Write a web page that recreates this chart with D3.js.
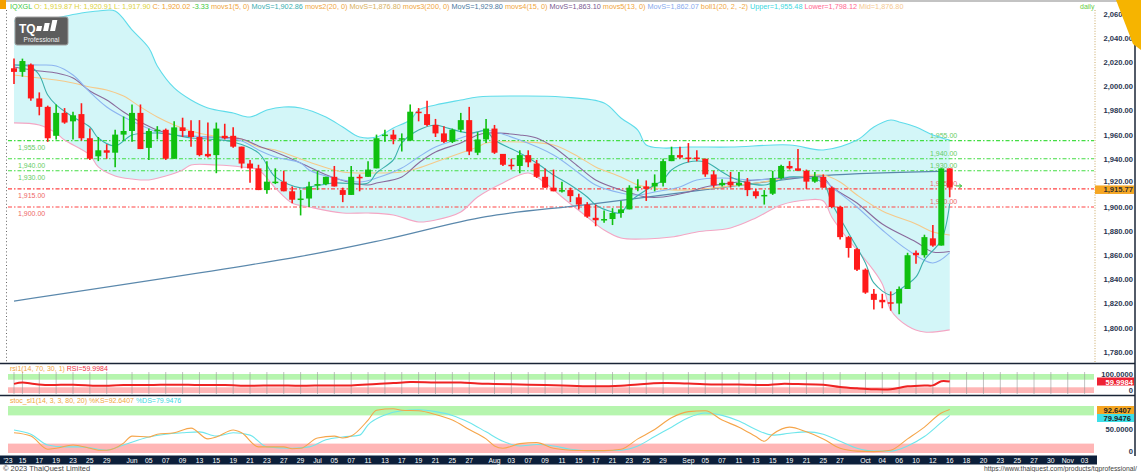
<!DOCTYPE html>
<html>
<head>
<meta charset="utf-8">
<script src="https://cdn.jsdelivr.net/npm/d3@7"></script>
<style>
body { margin: 0; background: #fff; }
text { font-family: "Liberation Sans", Arial, sans-serif; }
</style>
</head>
<body>
<svg id="chart" width="1141" height="472"></svg>
<script>
// daily candles, 12 May - 16 Oct 2023, one entry per trading day
const opens  = [2015,2012,2018,1990,1983,1959,1978,1971,1977,1957,1942,1947,1945,1960,1963,1978,1949,1963,1964,1940,
                1966,1963,1958,1944,1943,1959,1959,1950,1936,1932,1914,1920,1921,1913,1906,1907,1918,1919,1925,1914,
                1910,1925,1925,1932,1959,1960,1956,1955,1979,1977,1968,1961,1954,1964,1972,1945,1956,1965,1944,1935,
                1934,1943,1936,1925,1916,1913,1914,1908,1902,1891,1889,1890,1895,1898,1916,1917,1917,1920,1938,1943,
                1941,1941,1940,1927,1918,1921,1918,1921,1913,1909,1911,1924,1934,1932,1930,1921,1925,1916,1900,1875,
                1865,1848,1828,1823,1821,1820,1832,1862,1860,1874,1868,1932];
const highs  = [2023,2023,2019,1995,1984,1985,1982,1979,1986,1965,1958,1952,1964,1975,1985,1985,1965,1967,1965,1971,
                1974,1972,1972,1970,1970,1969,1966,1950,1939,1935,1938,1932,1930,1917,1914,1921,1930,1925,1934,1916,
                1934,1927,1938,1960,1964,1964,1961,1985,1982,1988,1973,1967,1965,1978,1983,1962,1973,1968,1944,1940,
                1947,1947,1939,1932,1931,1921,1916,1911,1904,1902,1897,1899,1905,1918,1923,1922,1927,1940,1950,1950,
                1953,1947,1940,1930,1923,1929,1929,1924,1915,1914,1930,1935,1938,1948,1931,1929,1927,1917,1901,1876,
                1866,1849,1832,1828,1830,1834,1862,1864,1877,1885,1932,1932];
const lows   = [2002,2008,1988,1976,1954,1956,1969,1956,1955,1939,1938,1940,1933,1955,1954,1948,1939,1956,1939,1940,
                1958,1950,1942,1941,1928,1956,1949,1932,1920,1914,1911,1919,1913,1903,1893,1900,1914,1918,1917,1904,
                1910,1913,1925,1932,1954,1952,1946,1955,1971,1967,1958,1953,1953,1962,1943,1943,1953,1944,1934,1931,
                1928,1933,1924,1916,1913,1912,1904,1898,1891,1884,1887,1885,1891,1898,1913,1905,1913,1917,1938,1940,
                1937,1938,1925,1916,1917,1916,1917,1909,1907,1902,1910,1923,1931,1930,1915,1920,1916,1899,1873,1858,
                1847,1828,1815,1816,1814,1811,1832,1853,1858,1867,1868,1908];
const closes = [2012,2021,1990,1983,1957,1978,1970,1976,1957,1940,1947,1945,1960,1963,1978,1948,1963,1964,1940,1966,
                1963,1958,1943,1942,1965,1957,1950,1936,1932,1914,1921,1921,1913,1906,1907,1917,1919,1925,1917,1910,
                1925,1924,1931,1957,1960,1956,1957,1979,1978,1968,1961,1954,1964,1972,1946,1956,1965,1945,1935,1934,
                1943,1937,1925,1916,1913,1914,1909,1902,1892,1889,1890,1895,1898,1916,1917,1915,1920,1938,1943,1941,
                1940,1940,1927,1918,1920,1918,1920,1914,1909,1910,1924,1934,1932,1930,1921,1925,1916,1900,1875,1866,
                1848,1829,1823,1821,1820,1832,1860,1860,1875,1868,1932,1916];

// indicator lines as [bar index, value]
const ma5 = [[0,2017.7],[2,2016.1],[3,2009.4],[4,1992.8],[5,1984.6],[7,1974.6],[9,1966.3],[10,1957.2],[12,1950.6],[14,1959.7],
             [17,1961.3],[19,1959.7],[21,1957.2],[23,1956.4],[26,1953.9],[29,1944.8],[31,1924.9],[34,1915.8],[35,1916.6],[38,1919.9],
             [42,1919.9],[43,1928.2],[45,1939],[46,1953.1],[48,1963.8],[50,1968],[51,1966.3],[54,1961.3],[56,1963],[57,1955.5],
             [60,1944.8],[62,1936.5],[64,1926.5],[66,1918.2],[68,1908.3],[69,1901.7],[71,1895.9],[72,1895],[73,1904.1],[75,1914.1],
             [77,1922.4],[78,1930.7],[80,1937.3],[82,1937.3],[84,1929],[85,1924.9],[87,1919.9],[89,1918.2],[92,1924.9],[94,1924],
             [96,1919.9],[97,1903.3],[99,1878.4],[101,1853.6],[102,1837],[104,1827],[105,1831.2],[107,1842],[108,1856.1],[110,1872.6],[111,1902.9]];
const ma13 = [[0,2017.7],[3,2017.7],[5,2016.9],[7,2009.4],[9,1995.3],[11,1982.9],[13,1974.6],[15,1968],[17,1962.2],[19,1959.7],
              [23,1958],[27,1954.7],[29,1947.3],[31,1941.5],[34,1936.5],[35,1930.7],[38,1924],[41,1920.7],[43,1924],[46,1932.3],
              [48,1941.5],[50,1949.7],[53,1957.2],[55,1962.2],[56,1963.8],[60,1955.5],[64,1943.1],[67,1928.2],[69,1918.2],[72,1911.6],
              [74,1909.9],[76,1912.4],[79,1916.6],[81,1922.4],[84,1924],[88,1922.4],[92,1924.9],[96,1922.4],[97,1916.6],[100,1900],
              [103,1880.9],[106,1864.4],[109,1853.6],[111,1862.1]];
const ma15 = [[0,2016.1],[3,2012.7],[5,2011.1],[7,2006.9],[9,1996.2],[11,1988.7],[13,1978.8],[15,1970.5],[17,1963.8],[19,1959.7],
              [23,1958],[27,1956.4],[29,1950.6],[31,1945.6],[34,1936.5],[35,1933.2],[38,1924],[42,1918.2],[43,1919.9],[46,1924.9],
              [48,1936.5],[50,1945.6],[53,1953.1],[55,1959.7],[56,1961.3],[60,1959.7],[62,1957.2],[64,1949.7],[67,1933.2],[69,1922.4],
              [72,1914.1],[75,1908.3],[77,1908.3],[80,1912.4],[82,1916.6],[85,1919.9],[88,1922.4],[92,1924],[96,1924],[97,1916.6],
              [100,1903.3],[103,1885.9],[107,1871],[109,1862.7],[111,1863.1]];
const ma20 = [[0,2009.4],[3,2006.9],[5,2005.3],[7,2002.8],[9,1999.5],[11,1997],[13,1992],[15,1982.9],[17,1974.6],[19,1968],
              [21,1963],[23,1959.7],[25,1958],[27,1956.4],[29,1949.7],[31,1947.3],[35,1937.3],[39,1929],[43,1928.2],[46,1929],
              [48,1932.3],[50,1937.3],[53,1944.8],[55,1949.7],[56,1953.1],[60,1953.9],[64,1951.4],[67,1941.5],[69,1933.2],[72,1924.9],
              [74,1918.2],[76,1915.8],[78,1914.1],[80,1914.1],[83,1915.8],[85,1917.4],[88,1919.9],[92,1924],[96,1926.5],[98,1920.7],
              [100,1909.9],[103,1896.7],[107,1885.9],[109,1879.3],[111,1876.8]];
const ma200 = [[0,1822],[34,1859],[44,1873],[56,1892],[68,1902],[85,1917],[96,1926],[111,1929.8]];
const bbUpper = [[0,2054.2],[3,2055],[5,2056.7],[8,2060.8],[10,2062.5],[12,2062.5],[14,2046.8],[16,2031.8],[17,2016.9],[19,1998.7],
                 [21,1988.7],[23,1982.1],[26,1977.9],[28,1974.6],[30,1980.4],[32,1982.9],[34,1982.1],[37,1974.6],[39,1966.3],[41,1958],
                 [43,1958],[45,1965.5],[47,1972.1],[48,1980.4],[50,1984.6],[53,1988.7],[55,1991.2],[60,1992],[65,1991.2],[70,1986.2],
                 [72,1973.8],[74,1963.8],[75,1951.4],[77,1948.9],[80,1949.7],[85,1949.7],[92,1951.4],[96,1947.3],[100,1955.5],[102,1966.3],
                 [104,1972.1],[105,1970.5],[107,1966.3],[109,1959.7],[111,1955.5]];
const bbLower = [[0,1969.7],[3,1968],[5,1961.3],[6,1955.5],[9,1943.1],[10,1933.2],[12,1925.7],[14,1923.2],[16,1922.4],[18,1925.7],
                 [20,1930.7],[21,1934.8],[24,1934.8],[27,1933.2],[29,1930.7],[31,1915.8],[33,1903.3],[35,1900],[39,1895],[42,1895],
                 [45,1893.4],[48,1887.6],[50,1889.2],[53,1895.9],[55,1908.3],[58,1919.9],[61,1928.2],[63,1919.9],[65,1908.3],[68,1891.7],
                 [70,1880.9],[72,1874.3],[75,1873.5],[78,1875.1],[81,1879.3],[85,1882.6],[88,1890.9],[91,1901.7],[94,1905.8],[96,1905],
                 [97,1891.7],[99,1872.6],[101,1856.1],[103,1836.2],[104,1814.6],[106,1801.3],[108,1796.3],[111,1798.1]];

const rsi = [[0,48],[1,55],[2,50],[4,42],[7,44],[10,38],[13,42],[16,42],[19,44],[22,42],[25,42],[28,38],[31,40],[34,38],
             [37,40],[40,40],[43,48],[45,52],[47,58],[50,55],[53,55],[55,50],[57,48],[60,45],[63,42],[66,38],[69,35],[72,38],
             [74,45],[77,52],[80,50],[83,45],[86,45],[89,42],[91,48],[93,47],[96,44],[98,32],[100,25],[102,20],[104,20],
             [106,35],[108,40],[109,40],[110,62],[111,60]];
const stochK = [[0,43],[2,36],[4,8],[5,10],[7,17],[9,10],[10,6],[11,6],[13,21],[14,36],[16,34],[17,40],[19,43],[21,53],
                [23,30],[24,34],[26,49],[27,43],[29,13],[32,13],[33,9],[34,10],[36,32],[38,36],[39,32],[40,36],[42,70],[43,91],
                [45,94],[46,91],[48,90],[50,82],[52,70],[54,50],[56,30],[57,15],[58,10],[60,20],[62,22],[64,10],[66,6],[68,5],
                [70,5],[72,8],[74,30],[76,50],[78,75],[80,88],[82,90],[84,70],[86,55],[88,35],[89,25],[90,40],[92,55],[94,45],
                [96,30],[98,10],[100,4],[102,3],[104,6],[106,30],[108,55],[110,85],[111,92.6]];
const stochD = [[0,49],[2,40],[4,17],[6,13],[8,13],[11,6],[13,17],[16,34],[18,40],[20,43],[22,45],[24,36],[26,43],[28,38],
                [30,13],[33,10],[35,13],[37,28],[39,34],[41,38],[42,60],[44,81],[46,90],[48,92],[50,88],[52,80],[54,65],[56,45],
                [58,25],[60,15],[62,18],[64,15],[66,8],[68,5],[70,5],[72,6],[74,15],[76,35],[78,55],[80,75],[82,85],[84,80],
                [86,68],[88,50],[90,38],[92,42],[94,45],[96,40],[98,25],[100,10],[102,4],[104,4],[106,15],[108,35],[110,65],[111,80]];

const priceTicks = [1780,1800,1820,1840,1860,1880,1900,1920,1940,1960,1980,2000,2020,2040,2060];
const greenLevels = [1955, 1940, 1930];
const redLevels = [1915, 1900];

// date labels and the bar slot they sit on
const dateTicks = [[0,"'23"],[1,"15"],[3,"17"],[5,"19"],[7,"23"],[9,"25"],[11,"29"],[14,"Jun"],[16,"05"],[18,"07"],[20,"09"],
                   [22,"13"],[24,"15"],[26,"19"],[28,"21"],[30,"23"],[32,"27"],[34,"29"],[36,"Jul"],[38,"05"],[40,"07"],[42,"11"],
                   [44,"13"],[46,"17"],[48,"19"],[50,"21"],[52,"25"],[54,"27"],[57,"Aug"],[59,"03"],[61,"07"],[63,"09"],[65,"11"],
                   [67,"15"],[69,"17"],[71,"21"],[73,"23"],[75,"25"],[77,"29"],[80,"Sep"],[82,"05"],[84,"07"],[86,"11"],[88,"13"],
                   [90,"15"],[92,"19"],[94,"21"],[96,"25"],[98,"27"],[101,"Oct"],[103,"04"],[105,"06"],[107,"10"],[109,"12"],
                   [111,"16"],[113,"18"],[115,"20"],[117,"23"],[119,"25"],[121,"27"],[123,"30"],[125,"Nov"],[127,"03"]];

const headerParts = [["IQXGL ","#3fc83f"],["O: 1,919.87 H: 1,920.91 L: 1,917.90 ","#dcd23c"],["C: 1,920.02 ","#f0a030"],["-3.33 ","#3fc83f"],
                     ["movs1(5, 0) ","#f0a640"],["MovS=1,902.86 ","#3aaeb0"],["movs2(20, 0) ","#f0a640"],["MovS=1,876.80 ","#d8b060"],
                     ["movs3(200, 0) ","#f0a640"],["MovS=1,929.80 ","#4a78a0"],["movs4(15, 0) ","#f0a640"],["MovS=1,863.10 ","#7a5a90"],
                     ["movs5(13, 0) ","#f0a640"],["MovS=1,862.07 ","#88aaee"],["boll1(20, 2, -2) ","#f0a640"],["Upper=1,955.48 ","#40d8e0"],
                     ["Lower=1,798.12 ","#ff6690"],["Mid=1,876.80","#f5c890"]];

const svg = d3.select("#chart");
const plotLeft = 8, plotRight = 1094;

var x = d3.scaleLinear().domain([0, 127]).range([14, 1084.6]);
var y = d3.scaleLinear().domain([1780, 2060]).range([351.7, 14]);
var yRsi = d3.scaleLinear().domain([0, 100]).range([393, 374]);
var ySto = d3.scaleLinear().domain([0, 100]).range([453, 406]);

var curve = d3.curveCatmullRom.alpha(0.5);
var priceLine = d3.line().x(d => x(d[0])).y(d => y(d[1])).curve(curve);

// bollinger fill: upper edge forward, lower edge back
var upPath = priceLine(bbUpper);
var lowPath = priceLine(bbLower.slice().reverse());
svg.append("path")
    .attr("d", upPath + "L" + lowPath.slice(1) + "Z")
    .attr("fill", "#d3f6f8");

// horizontal support / resistance levels
function drawLevel(v, col, textCol) {
    svg.append("line")
        .attr("x1", plotLeft).attr("x2", plotRight)
        .attr("y1", y(v)).attr("y2", y(v))
        .attr("stroke", col).attr("stroke-width", 1.1)
        .attr("stroke-dasharray", "4,2,1.5,2");
    var lbl = d3.format(",.2f")(v);
    svg.append("text").attr("x", 18).attr("y", y(v) + 9)
        .attr("font-size", 7).attr("fill", textCol).text(lbl);
    svg.append("text").attr("x", 930).attr("y", y(v) - 3)
        .attr("font-size", 7).attr("fill", textCol).text(lbl);
}
greenLevels.forEach(v => drawLevel(v, "#44dd44", "#66cc66"));
redLevels.forEach(v => drawLevel(v, "#ff4444", "#ee6666"));

// band edges and moving averages
var lines = [
    [bbUpper, "#5fdcea", 1.1],
    [bbLower, "#f4a6c4", 1.1],
    [ma200, "#5a88ac", 1.2],
    [ma20, "#f5c98a", 1.1],
    [ma15, "#8a6a9c", 1.1],
    [ma13, "#8cb4f0", 1.1],
    [ma5, "#3cb0ac", 1.1]
];
lines.forEach(function(l) {
    svg.append("path")
        .attr("d", priceLine(l[0]))
        .attr("fill", "none")
        .attr("stroke", l[1])
        .attr("stroke-width", l[2]);
});

// candles
var bars = d3.range(closes.length);
var candles = svg.append("g");
candles.selectAll("line")
    .data(bars)
    .enter()
    .append("line")
    .attr("x1", i => x(i)).attr("x2", i => x(i))
    .attr("y1", i => y(highs[i])).attr("y2", i => y(lows[i]))
    .attr("stroke", i => closes[i] >= opens[i] ? "#10c010" : "#ff1a1a")
    .attr("stroke-width", 1.6);
candles.selectAll("rect")
    .data(bars)
    .enter()
    .append("rect")
    .attr("x", i => x(i) - 3)
    .attr("width", 6)
    .attr("y", i => y(Math.max(opens[i], closes[i])))
    .attr("height", i => Math.max(1.5, Math.abs(y(opens[i]) - y(closes[i]))))
    .attr("fill", i => closes[i] >= opens[i] ? "#10c010" : "#ff1a1a");

// small marker right of the last bar
var lastClose = 1915.77;
svg.append("path")
    .attr("d", "M" + (x(111) + 6) + "," + (y(lastClose) - 2) + "h6m-2.5,-2l2.5,2l-2.5,2")
    .attr("fill", "none").attr("stroke", "#33bb33").attr("stroke-width", 1);

// header line, shrunk to the width it takes in the original
var head = svg.append("text").attr("x", 10).attr("y", 9).attr("font-size", 7);
headerParts.forEach(p => head.append("tspan").attr("fill", p[1]).text(p[0]));
var hw = head.node().getComputedTextLength();
head.attr("font-size", 7 * 895 / hw);
svg.append("text").attr("x", 1080).attr("y", 9).attr("font-size", 7).attr("fill", "#66cc44").text("daily");

// logo
var logo = svg.append("g").attr("transform", "translate(15,17)");
logo.append("rect").attr("width", 53).attr("height", 28).attr("rx", 2)
    .attr("fill", "#5d5d5d").attr("stroke", "#a0a0a0");
logo.append("text").attr("x", 4).attr("y", 16).attr("font-size", 12)
    .attr("font-weight", "bold").attr("fill", "#fff").text("TQ");
[[24, 9, 5], [31, 6, 8], [38, 3, 11]].forEach(function(b) {
    logo.append("rect").attr("x", b[0]).attr("y", b[1]).attr("width", 5).attr("height", b[2])
        .attr("fill", "#fff").attr("transform", "skewX(-12)");
});
logo.append("text").attr("x", 26.5).attr("y", 25).attr("font-size", 6.5)
    .attr("text-anchor", "middle").attr("fill", "#f0f0f0").text("Professional");

// left edge ticks
svg.append("line").attr("x1", 6.5).attr("x2", 6.5).attr("y1", 10).attr("y2", 362)
    .attr("stroke", "#666").attr("stroke-dasharray", "1,2.4");

// right price axis
svg.append("line").attr("x1", plotRight + 1).attr("x2", plotRight + 1).attr("y1", 10).attr("y2", 362)
    .attr("stroke", "#c9a864").attr("stroke-dasharray", "1,1.6");
svg.append("g").selectAll("text")
    .data(priceTicks)
    .enter()
    .append("text")
    .attr("x", 1133).attr("y", d => y(d) + (d === 1920 ? 1.5 : 3))
    .attr("text-anchor", "end").attr("font-size", 7.6).attr("font-weight", "bold")
    .attr("fill", "#2a3550")
    .text(d => d3.format(",.2f")(d));

// last price tag, sits just under the 1,920 label
svg.append("rect").attr("x", 1095).attr("y", y(lastClose) - 2.5).attr("width", 39).attr("height", 8.5).attr("fill", "#f5a623");
svg.append("text").attr("x", 1133).attr("y", y(lastClose) + 4.5).attr("text-anchor", "end")
    .attr("font-size", 7.6).attr("font-weight", "bold").attr("fill", "#333").text("1,915.77");

// panel separators
[363.5, 395.5].forEach(function(yy) {
    svg.append("line").attr("x1", 0).attr("x2", 1135).attr("y1", yy).attr("y2", yy)
        .attr("stroke", "#1a2436").attr("stroke-width", 1.6);
});

// RSI panel
svg.append("rect").attr("x", plotLeft).attr("width", plotRight - plotLeft)
    .attr("y", yRsi(100)).attr("height", yRsi(70) - yRsi(100)).attr("fill", "#b6f5ae");
svg.append("rect").attr("x", plotLeft).attr("width", plotRight - plotLeft)
    .attr("y", yRsi(30)).attr("height", yRsi(0) - yRsi(30)).attr("fill", "#ffb6b6");
svg.append("g").selectAll("line")
    .data(dateTicks)
    .enter()
    .append("line")
    .attr("x1", d => x(d[0])).attr("x2", d => x(d[0]))
    .attr("y1", 372).attr("y2", 394)
    .attr("stroke", "#999").attr("stroke-width", 0.6);
var rsiLine = d3.line().x(d => x(d[0])).y(d => yRsi(d[1])).curve(curve);
svg.append("path").attr("d", rsiLine(rsi)).attr("fill", "none")
    .attr("stroke", "#ee2222").attr("stroke-width", 2);
var rsiTitle = svg.append("text").attr("x", 10).attr("y", 371).attr("font-size", 7);
rsiTitle.append("tspan").attr("fill", "#f0a640").text("rsi1(14, 70, 30, 1) ");
rsiTitle.append("tspan").attr("fill", "#ee3344").text("RSI=59.9984");
svg.append("text").attr("x", 1133).attr("y", 377).attr("text-anchor", "end")
    .attr("font-size", 7.6).attr("font-weight", "bold").attr("fill", "#2a3550").text("100.0000");
svg.append("rect").attr("x", 1097).attr("y", 377.5).attr("width", 37).attr("height", 8).attr("fill", "#ee2233");
svg.append("text").attr("x", 1133).attr("y", 384.5).attr("text-anchor", "end")
    .attr("font-size", 7.6).attr("font-weight", "bold").attr("fill", "#fff").text("59.9984");
svg.append("text").attr("x", 1133).attr("y", 393).attr("text-anchor", "end")
    .attr("font-size", 7.6).attr("font-weight", "bold").attr("fill", "#2a3550").text("0");

// stochastic panel
svg.append("rect").attr("x", plotLeft).attr("width", plotRight - plotLeft)
    .attr("y", ySto(100)).attr("height", ySto(80) - ySto(100)).attr("fill", "#b6f5ae");
svg.append("rect").attr("x", plotLeft).attr("width", plotRight - plotLeft)
    .attr("y", ySto(20)).attr("height", ySto(0) - ySto(20)).attr("fill", "#ffb6b6");
var stoLine = d3.line().x(d => x(d[0])).y(d => ySto(d[1])).curve(d3.curveMonotoneX);
svg.append("path").attr("d", stoLine(stochD)).attr("fill", "none")
    .attr("stroke", "#6ee6ec").attr("stroke-width", 1.1);
svg.append("path").attr("d", stoLine(stochK)).attr("fill", "none")
    .attr("stroke", "#f5a54a").attr("stroke-width", 1.1);
var stoTitle = svg.append("text").attr("x", 10).attr("y", 403).attr("font-size", 7);
stoTitle.append("tspan").attr("fill", "#f0a640").text("stoc_sl1(14, 3, 3, 80, 20) %KS=92.6407 ");
stoTitle.append("tspan").attr("fill", "#40d8e0").text("%DS=79.9476");
svg.append("rect").attr("x", 1097).attr("y", 406).attr("width", 37).attr("height", 8).attr("fill", "#f5a623");
svg.append("text").attr("x", 1131).attr("y", 413).attr("text-anchor", "end")
    .attr("font-size", 7.6).attr("font-weight", "bold").attr("fill", "#222").text("92.6407");
svg.append("rect").attr("x", 1097).attr("y", 414).attr("width", 37).attr("height", 8).attr("fill", "#3ee0e8");
svg.append("text").attr("x", 1131).attr("y", 421).attr("text-anchor", "end")
    .attr("font-size", 7.6).attr("font-weight", "bold").attr("fill", "#222").text("79.9476");
svg.append("text").attr("x", 1133).attr("y", 432).attr("text-anchor", "end")
    .attr("font-size", 7.6).attr("font-weight", "bold").attr("fill", "#2a3550").text("50.0000");
svg.append("text").attr("x", 1133).attr("y", 454).attr("text-anchor", "end")
    .attr("font-size", 7.6).attr("font-weight", "bold").attr("fill", "#2a3550").text("0");

// right border of the axis column
svg.append("line").attr("x1", 1135).attr("x2", 1135).attr("y1", 10).attr("y2", 456)
    .attr("stroke", "#1a2436").attr("stroke-width", 1.5);

// date axis bar
svg.append("rect").attr("x", 0).attr("y", 455.5).attr("width", 1097).attr("height", 9).attr("fill", "#0c1f3a");
svg.append("g").selectAll("text")
    .data(dateTicks)
    .enter()
    .append("text")
    .attr("x", d => d[0] === 0 ? 8 : x(d[0]))
    .attr("y", 462.5)
    .attr("text-anchor", "middle").attr("font-size", 6.8).attr("fill", "#fff")
    .text(d => d[1]);

// footer
svg.append("text").attr("x", 3).attr("y", 471).attr("font-size", 7.5).attr("fill", "#444").text("\u00a9 2023 ThaiQuest Limited");
svg.append("text").attr("x", 1137).attr("y", 471).attr("text-anchor", "end").attr("font-size", 6.8)
    .attr("fill", "#444").text("https://www.thaiquest.com/products/tqprofessional/");

// top frame and corner marks
svg.append("line").attr("x1", 0).attr("x2", 1141).attr("y1", 1).attr("y2", 1).attr("stroke", "#888").attr("stroke-width", 1.2);
svg.append("rect").attr("x", 0).attr("y", 0).attr("width", 6).attr("height", 9).attr("fill", "#f5a000");
svg.append("path").attr("d", "M1116,0L1141,0L1141,50L1133,44Z").attr("fill", "#f6b400");
</script>
</body>
</html>
